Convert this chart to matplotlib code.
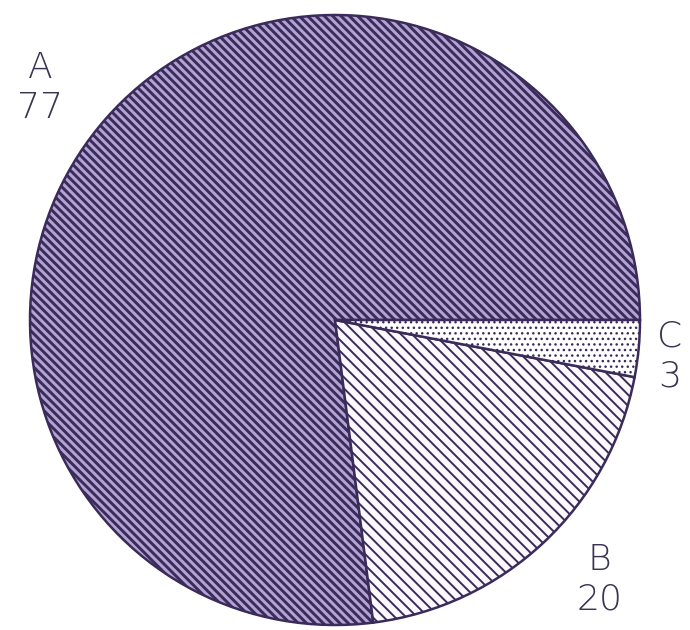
import numpy as np
import matplotlib
matplotlib.use('Agg')
import matplotlib.pyplot as plt

labels = ['A', 'B', 'C']
values = [77, 20, 3]
faces = ['#b2a4d2', '#fbf9fd', '#ffffff']
hatches = ['\\' * 4, '\\' * 3, '.' * 3]
hatch_lw = [2.1, 1.4, 1.0]
# label placement: (angle offset from wedge middle in degrees, distance in radii)
label_place = [(3.2, 1.23), (2.3, 1.217), (-0.8, 1.105)]

ink = '#3a2b5a'
plt.rcParams['hatch.linewidth'] = 1.5
plt.rcParams['hatch.color'] = ink

fig = plt.figure(figsize=(6.9, 6.3), dpi=100)
ax = fig.add_axes([0, 0, 1, 1])

center = (335, 310)
radius = 305
wedges, texts = ax.pie(values, labels=[f'{l}\n{v}' for l, v in zip(labels, values)],
                       startangle=0, counterclock=True, center=center, radius=radius,
                       colors=faces, labeldistance=1.2, frame=True,
                       wedgeprops=dict(edgecolor=ink, linewidth=1.8),
                       textprops=dict(color='#3b3352', fontsize=26, linespacing=1.2,
                                      fontweight='light'))
ax.set_xlim(0, 690)
ax.set_ylim(0, 630)
ax.set_aspect('equal')
ax.axis('off')

for w, t, h, lw, (off, d) in zip(wedges, texts, hatches, hatch_lw, label_place):
    w.set_hatch(h)
    if hasattr(w, 'set_hatch_linewidth'):
        w.set_hatch_linewidth(lw)
    mid = np.deg2rad((w.theta1 + w.theta2) / 2 + off)
    t.set_position((center[0] + d * radius * np.cos(mid),
                    center[1] + d * radius * np.sin(mid)))
    t.set_ha('center')
    t.set_va('center')

fig.savefig('out.png', dpi=100)
